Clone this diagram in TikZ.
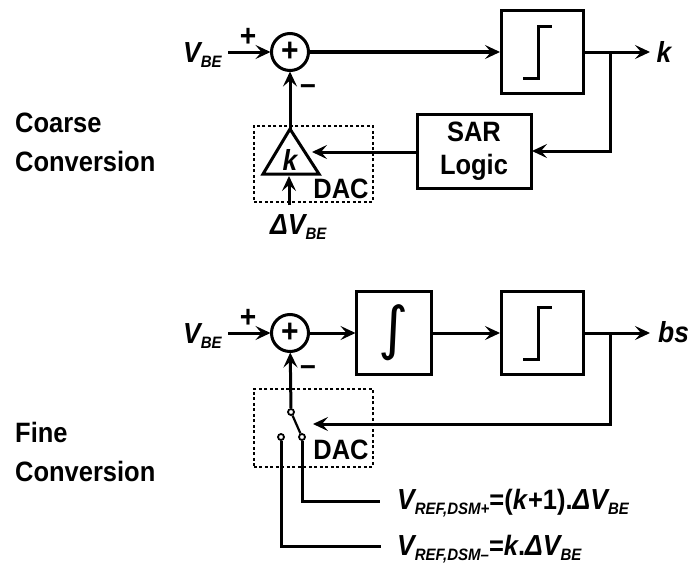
\documentclass[tikz,border=0pt]{standalone}
\usepackage{fontspec}
\setmainfont[FakeStretch=0.91]{Liberation Sans}
\newfontfamily\intfont{DejaVu Sans}
\usetikzlibrary{arrows.meta,calc}
\newcommand{\bigfs}{\fontsize{28}{39}\selectfont}
\newcommand{\varfs}{\fontsize{29}{29}\selectfont}
\newcommand{\subfs}{\fontsize{16.5}{16.5}\selectfont}
\newcommand{\vsub}[2]{{\varfs\itshape #1}{\subfs\itshape\raisebox{-5pt}{#2}}}
\tikzset{
	wire/.style={line width=3pt},
	blockbox/.style={draw, line width=3pt, minimum width=82pt, minimum height=83pt, inner sep=0pt, outer sep=1pt},
	sumnode/.style={draw, circle, line width=3pt, minimum size=37pt, inner sep=0pt, outer sep=1pt, font=\bfseries\fontsize{33}{33}\selectfont},
	dacbox/.style={draw, dash pattern=on 3pt off 2.5pt, line width=1.6pt, inner sep=0pt, anchor=north west},
	lab/.style={inner sep=0pt, font=\bfseries\bigfs},
	signlab/.style={inner sep=0pt, font=\bfseries\fontsize{31}{31}\selectfont},
	outlab/.style={inner sep=0pt, font=\bfseries\itshape\fontsize{29}{29}\selectfont},
	contact/.style={draw, circle, line width=1.8pt, fill=white, minimum size=6pt, inner sep=0pt},
}
\begin{document}
\begin{tikzpicture}[x=1pt, y=-1pt, >={Stealth[length=15pt, width=14pt, inset=6pt]}]
	\useasboundingbox (0,0) rectangle (689,563);

	% Side titles
	\node[lab, anchor=base west, align=left] (coarse) at (15,171) {Coarse\\Conversion};
	\node[lab, anchor=base west, align=left] (fine) at (15,481) {Fine\\Conversion};

	% Coarse loop
	\node[sumnode] (suma) at (290,52) {+};
	\node[blockbox] (compa) at (542,52) {};
	\node[draw, line width=3pt, minimum width=114pt, minimum height=74pt, inner sep=0pt, outer sep=1pt, font=\bfseries\fontsize{28}{33}\selectfont, align=center] (sar) at (474,151) {SAR\\Logic};
	\node[lab, anchor=base west] (vbea) at (183,62) {\vsub{V}{BE}};
	\node[signlab] (plusa) at (248,37) {+};
	\node[signlab] (minusa) at (308,90) {–};
	\node[outlab] (outa) at (664,52) {k};
	\node[outlab] (gain) at (290,160) {k};
	\node[lab] (daca) at (341,189) {DAC};
	\node[lab, anchor=base west] (delta) at (270,234) {\vsub{ΔV}{BE}};
	\node[dacbox, minimum width=119pt, minimum height=76pt] (boxa) at (253,125) {};

	\coordinate (vbestarta) at (228,52);
	\coordinate (apex) at (290,129);
	\coordinate (ampin) at (312,152);
	\coordinate (ampbase) at (289,176);
	\coordinate (deltatop) at (289,205);
	\coordinate (taila) at (650,52);
	\coordinate (tapa) at (610,52);
	\coordinate (tapb) at (610,151);

	\draw[wire, line join=miter] (apex) -- (319,174) -- (263,174) -- cycle;
	\draw[wire, ->] (vbestarta) -- (suma);
	\draw[line width=3.8pt, ->] (suma) -- (compa);
	\draw[wire, ->] (compa) -- (taila);
	\draw[wire, ->] (tapa) -- (tapb) -- (sar.east);
	\draw[wire, ->] (sar.west |- ampin) -- (ampin);
	\draw[wire, ->] (apex) -- (suma);
	\draw[wire, ->] (deltatop) -- (ampbase);

	% Fine loop
	\node[sumnode] (sumb) at (290,333) {+};
	\node[blockbox, minimum width=75pt, font=\intfont\fontsize{58}{58}\selectfont] (integ) at (394,333) {∫};
	\node[blockbox] (compb) at (542,333) {};
	\node[lab, anchor=base west] (vbeb) at (183,343) {\vsub{V}{BE}};
	\node[signlab] (plusb) at (248,318) {+};
	\node[signlab] (minusb) at (308,371) {–};
	\node[outlab, anchor=base west] (outb) at (658,342) {bs};
	\node[lab] (dacb) at (341,450) {DAC};
	\node[dacbox, minimum width=119pt, minimum height=78pt] (boxb) at (253,388) {};
	\node[contact] (pole) at (291,412) {};
	\node[contact] (swright) at (302,437) {};
	\node[contact] (swleft) at (281,437) {};
	\node[lab, anchor=base west] (refplus) at (397,509) {\vsub{V}{REF,DSM+}=(\textit{k}+1).\vsub{ΔV}{BE}};
	\node[lab, anchor=base west] (refminus) at (397,555) {\vsub{V}{REF,DSM–}=\textit{k}.\vsub{ΔV}{BE}};

	\coordinate (vbestartb) at (228,333);
	\coordinate (tailb) at (650,333);
	\coordinate (tapc) at (610,333);
	\coordinate (tapd) at (610,424);
	\coordinate (swarrow) at (313,424);
	\coordinate (refa) at (380,501);
	\coordinate (refb) at (381,546);

	\draw[wire, ->] (vbestartb) -- (sumb);
	\draw[wire, ->] (sumb) -- (integ);
	\draw[wire, ->] (integ) -- (compb);
	\draw[wire, ->] (compb) -- (tailb);
	\draw[wire, ->] (tapc) -- (tapd) -- (swarrow);
	\draw[wire, ->] (pole) -- (sumb);
	\draw[line width=2.2pt] (pole) -- (swright);
	\draw[wire] (swright) |- (refa);
	\draw[wire] (swleft) |- (refb);

	% Step symbols
	\foreach \stepname in {compa,compb}
		\draw[wire] ($(\stepname)+(-19,26)$) -- ++(15,0) -- ++(0,-52) -- ++(14,0);
\end{tikzpicture}
\end{document}
